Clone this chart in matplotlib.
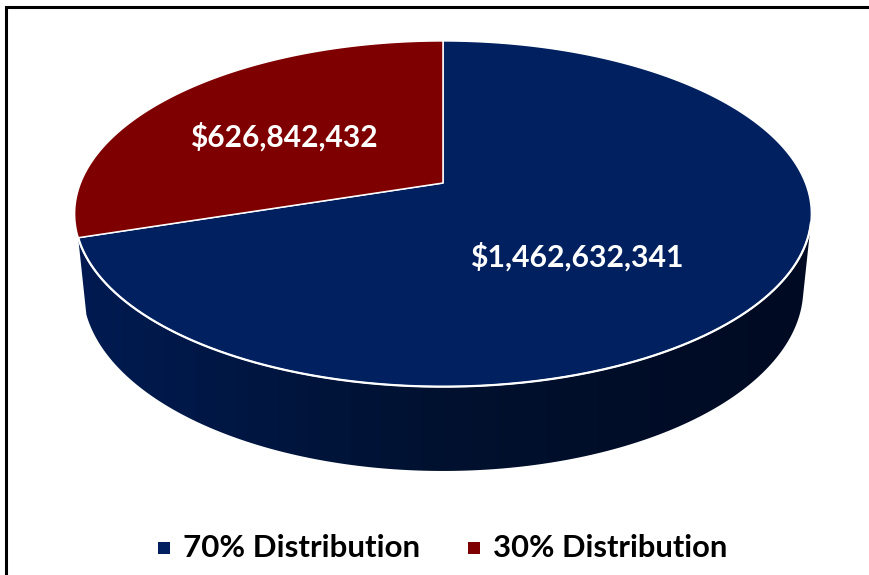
import numpy as np
import matplotlib
matplotlib.use("Agg")
import matplotlib.pyplot as plt
from matplotlib.patches import Polygon, Rectangle
from matplotlib.colors import to_rgb

# ---- data ----
categories = ["70% Distribution", "30% Distribution"]
values = [1462632341, 626842432]
value_labels = ["$1,462,632,341", "$626,842,432"]
top_colors = ["#00205F", "#7F0000"]

W, H = 870, 575
fig = plt.figure(figsize=(W / 100, H / 100), dpi=100)
fig.patch.set_facecolor("white")

# 3D perspective parameters
e = np.deg2rad(27.5)
D = 4.98
h = 0.235
k = 362.5           # pixels per unit
cx, cy = 443, 183   # pixel position of disk centre

ax = fig.add_axes([0, 0, 1, 1])
ax.set_xlim(-cx / k, (W - cx) / k)
ax.set_ylim((cy - H) / k, cy / k)
ax.axis("off")


def proj(t, Y):
    X = np.cos(t)
    Z = -np.sin(t)
    up = Y * np.cos(e) - Z * np.sin(e)
    w = D - (Z * np.cos(e) + Y * np.sin(e))
    return X * D / w, up * D / w


total = float(sum(values))
fracs = [v / total for v in values]
start = np.pi / 2
blue_a0, blue_a1 = start - 2 * np.pi * fracs[0], start
red_a0, red_a1 = start, start + 2 * np.pi * fracs[1]
ranges = [(blue_a0 + 2 * np.pi, blue_a1 + 2 * np.pi), (red_a0, red_a1)]

# visibility of the side wall
s_lim = -1.0 / (D * np.cos(e))
vis0 = np.pi + np.arcsin(-s_lim)
vis1 = 2 * np.pi - np.arcsin(-s_lim)

side_stops = ["#001B52", "#00112F", "#000A22"]
xs_all = np.linspace(-cx / k, (W - cx) / k, 600)


def gradient_img(stops):
    cols = np.array([to_rgb(c) for c in stops])
    xp = np.linspace(-1.0, 1.0, len(stops))
    img = np.zeros((2, len(xs_all), 3))
    for ch in range(3):
        img[:, :, ch] = np.interp(xs_all, xp, cols[:, ch])
    return img


# side wall of the large (front) slice
a0, a1 = ranges[0]
lo = max(a0, vis0)
hi = min(a1, vis1)
t = np.linspace(lo, hi, 300)
tx, ty = proj(t, 0.0)
bx, by = proj(t[::-1], -h)
side = Polygon(np.column_stack([np.r_[tx, bx], np.r_[ty, by]]),
               closed=True, facecolor="none", edgecolor="none")
ax.add_patch(side)
im = ax.imshow(gradient_img(side_stops),
               extent=[xs_all[0], xs_all[-1], (cy - H) / k, cy / k],
               aspect="auto", interpolation="bilinear", zorder=1)
im.set_clip_path(side)

# top faces
for i, (a0, a1) in enumerate(ranges):
    t = np.linspace(a0, a1, 400)
    px, py = proj(t, 0.0)
    poly = Polygon(np.column_stack([np.r_[0.0, px], np.r_[0.0, py]]),
                   closed=True, facecolor=top_colors[i], edgecolor="white",
                   linewidth=1.1, zorder=3, joinstyle="round")
    ax.add_patch(poly)

# white rim line along the visible front edge of the top
t = np.linspace(max(ranges[0][0], vis0), vis1, 400)
rx, ry = proj(t, 0.0)
ax.plot(rx, ry, color="white", lw=1.6, zorder=4, solid_capstyle="round")

# ---- text helpers ----
FONT = "Lato"
renderer = fig.canvas.get_renderer()


def fit_text(x, y, s, target_w, color, **kw):
    txt = fig.text(x, y, s, color=color, fontfamily=FONT, fontweight="bold",
                   fontsize=20, **kw)
    w = txt.get_window_extent(renderer).width
    txt.set_fontsize(20 * target_w / w)
    return txt


# value labels
fit_text(577 / W, 1 - 257 / H, value_labels[0], 214, "white",
         ha="center", va="center", zorder=10)
fit_text(284 / W, 1 - 137 / H, value_labels[1], 188, "white",
         ha="center", va="center", zorder=10)

# legend
leg_sq_x = [158, 468]
leg_tx = [183, 493]
leg_w = [237, 234]
leg_y = 548
for i in range(2):
    fig.patches.append(Rectangle((leg_sq_x[i] / W, 1 - (leg_y + 6) / H),
                                 12 / W, 12 / H, transform=fig.transFigure,
                                 facecolor=top_colors[i], edgecolor="none"))
    fit_text(leg_tx[i] / W, 1 - leg_y / H, categories[i], leg_w[i], "black",
             ha="left", va="center")

# frame (left and top edges visible)
fig.patches.append(Rectangle((6 / W, -0.05), 1.2, 1 - 7 / H + 0.05,
                             transform=fig.transFigure, facecolor="none",
                             edgecolor="black", linewidth=2.2))

fig.savefig("out.png", dpi=100, facecolor="white")
